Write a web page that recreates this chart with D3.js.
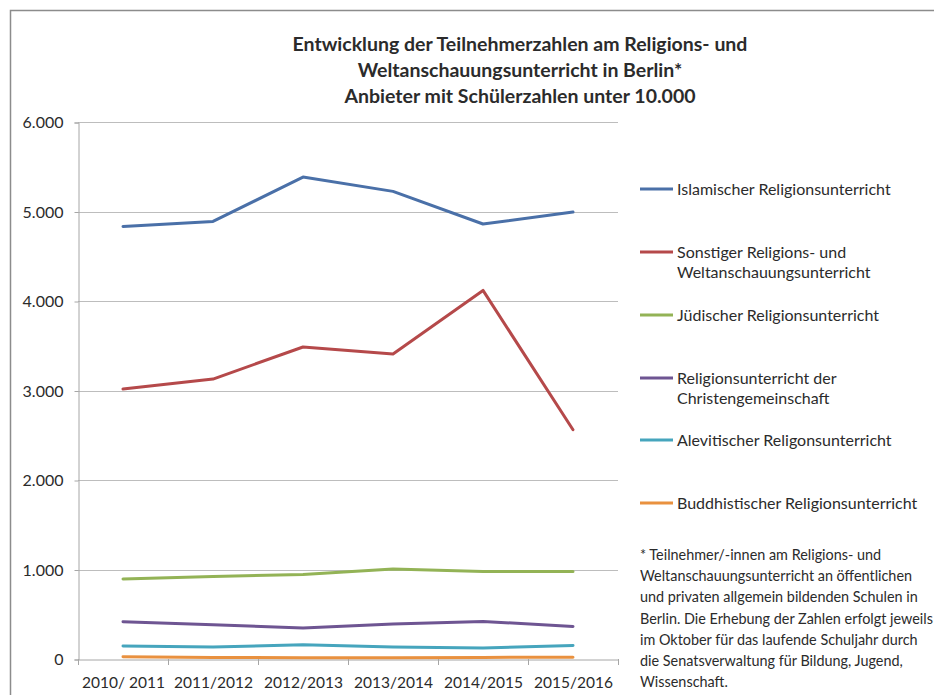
<!DOCTYPE html>
<html>
<head>
<meta charset="utf-8">
<script src="https://cdn.jsdelivr.net/npm/d3@7"></script>
<style>
  body { margin: 0; background: #fff; }
  svg { display: block; }
  text { font-family: Lato, "Open Sans", sans-serif; fill: #2b2b2b; }
</style>
</head>
<body>
<svg id="chart" width="934" height="695"></svg>
<script>
const categories = ["2010/ 2011", "2011/2012", "2012/2013", "2013/2014", "2014/2015", "2015/2016"];
const seriesNames = [
  ["Islamischer Religionsunterricht"],
  ["Sonstiger Religions- und", "Weltanschauungsunterricht"],
  ["Jüdischer Religionsunterricht"],
  ["Religionsunterricht der", "Christengemeinschaft"],
  ["Alevitischer Religonsunterricht"],
  ["Buddhistischer Religionsunterricht"]
];
const islamisch   = [4833, 4889, 5385, 5225, 4860, 4994];
const sonstiger   = [3017, 3128, 3486, 3408, 4118, 2562];
const juedisch    = [894, 923, 945, 1006, 979, 979];
const christen    = [417, 383, 346, 391, 420, 364];
const alevitisch  = [145, 134, 160, 134, 123, 152];
const buddhistisch= [25, 18, 15, 14, 18, 20];
const seriesValues = [islamisch, sonstiger, juedisch, christen, alevitisch, buddhistisch];
const colors = ["#4a70a8", "#b5494a", "#93b356", "#6e5592", "#46a5bd", "#e9913f"];
const yTicks = [0, 1000, 2000, 3000, 4000, 5000, 6000];
const titleLines = ["Entwicklung der Teilnehmerzahlen am Religions- und", "Weltanschauungsunterricht in Berlin*", "Anbieter mit Schülerzahlen unter 10.000"];
const footnote = ["* Teilnehmer/-innen am Religions- und", "Weltanschauungsunterricht an öffentlichen", "und privaten allgemein bildenden Schulen in", "Berlin. Die Erhebung der Zahlen erfolgt jeweils", "im Oktober für das laufende Schuljahr durch", "die Senatsverwaltung für Bildung, Jugend,", "Wissenschaft."];

const svg = d3.select("#chart");

// frame
svg.append("path").attr("d", "M10.5,695 L10.5,10.5 L934,10.5")
  .attr("fill", "none").attr("stroke", "#8c8c8c").attr("stroke-width", 1.5);

const pLeft = 78, pRight = 618, pTop = 122, pBottom = 659;
const x = d3.scaleBand().domain(categories).range([pLeft, pRight]).paddingInner(0).paddingOuter(0);
const y = d3.scaleLinear().domain([0, 6000]).range([pBottom, pTop]);

// gridlines
svg.append("g").selectAll("line").data(yTicks.filter(d => d > 0)).join("line")
  .attr("x1", pLeft).attr("x2", pRight)
  .attr("y1", d => Math.round(y(d)) + 0.5).attr("y2", d => Math.round(y(d)) + 0.5)
  .attr("stroke", "#bdbdbd").attr("stroke-width", 1);

// y axis
const fmt = d => d === 0 ? "0" : d3.format(",")(d).replace(/,/g, ".");
const yAxis = svg.append("g").attr("transform", `translate(${pLeft + 0.5},0.5)`)
  .call(d3.axisLeft(y).tickValues(yTicks).tickFormat(fmt).tickSize(4).tickPadding(11));
yAxis.select(".domain").attr("stroke", "#a6a6a6");
yAxis.selectAll(".tick line").attr("stroke", "#a6a6a6");
yAxis.selectAll("text").style("font-size", "16px").attr("fill", "#2b2b2b").style("font-family", "Lato, sans-serif");

// x axis
const xAxis = svg.append("g").attr("transform", `translate(0.5,${pBottom + 0.5})`)
  .call(d3.axisBottom(x).tickSize(0).tickPadding(17));
xAxis.select(".domain").attr("stroke", "#a6a6a6");
xAxis.selectAll("text").style("font-size", "15.5px").attr("fill", "#2b2b2b").style("font-family", "Lato, sans-serif");
// band boundary ticks
const bounds = categories.map(c => x(c)).concat([x(categories[categories.length - 1]) + x.bandwidth()]);
svg.append("g").selectAll("line").data(bounds).join("line")
  .attr("x1", d => Math.round(d) + 0.5).attr("x2", d => Math.round(d) + 0.5)
  .attr("y1", pBottom).attr("y2", pBottom + 6)
  .attr("stroke", "#a6a6a6");

// lines
const line = d3.line().x((d, i) => x(categories[i]) + x.bandwidth() / 2).y(d => y(d));
svg.append("g").selectAll("path").data(seriesValues).join("path")
  .attr("d", d => line(d))
  .attr("fill", "none")
  .attr("stroke", (d, i) => colors[i])
  .attr("stroke-width", 3)
  .attr("stroke-linejoin", "round")
  .attr("stroke-linecap", "round");

// title
svg.append("g").selectAll("text").data(titleLines).join("text")
  .attr("x", 520).attr("y", (d, i) => 51 + i * 26)
  .attr("text-anchor", "middle")
  .style("font-size", "19.5px").style("font-weight", "bold")
  .attr("fill", "#1a1a1a")
  .text(d => d);

// legend
const legendY = [189, 252, 315, 378, 440, 503];
const lg = svg.append("g").selectAll("g").data(seriesNames).join("g")
  .attr("transform", (d, i) => `translate(640,${legendY[i]})`);
lg.append("line").attr("x1", 0).attr("x2", 33).attr("y1", 0).attr("y2", 0)
  .attr("stroke", (d, i) => colors[i]).attr("stroke-width", 3);
lg.each(function(d) {
  d3.select(this).selectAll("text").data(d).join("text")
    .attr("x", 37).attr("y", (t, j) => 5.5 + j * 20.5)
    .style("font-size", "16px").attr("fill", "#333")
    .text(t => t);
});

// footnote
svg.append("g").selectAll("text").data(footnote).join("text")
  .attr("x", 640).attr("y", (d, i) => 560 + i * 21.2)
  .style("font-size", "14.4px").attr("fill", "#333")
  .text(d => d);
</script>
</body>
</html>
